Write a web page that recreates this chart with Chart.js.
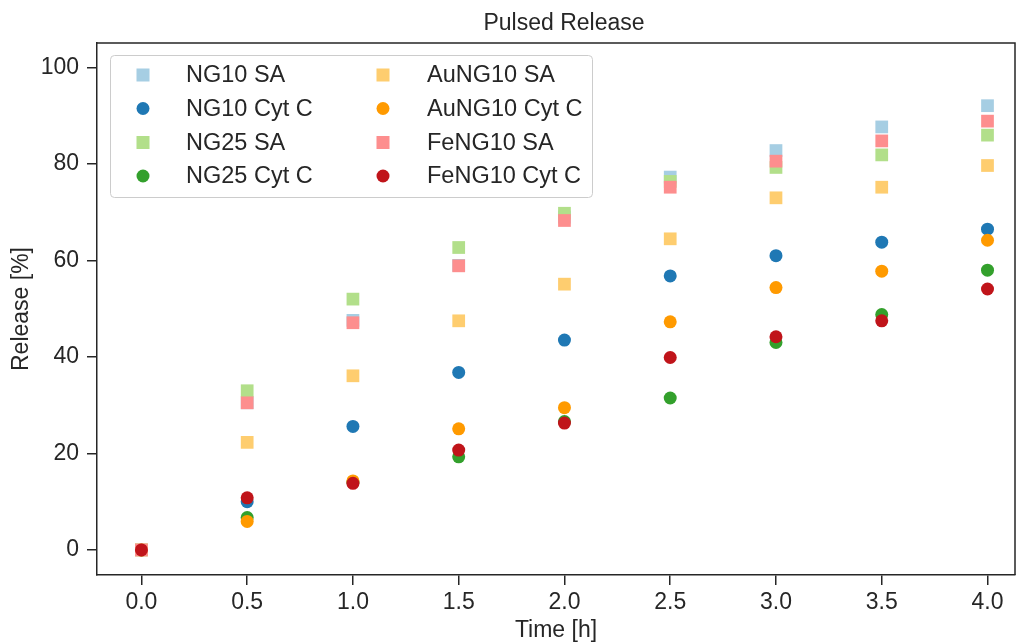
<!DOCTYPE html>
<html>
<head>
<meta charset="utf-8">
<script src="https://cdn.jsdelivr.net/npm/chart.js@4"></script>
<style>
    html, body { margin: 0; padding: 0; background: #fff; overflow: hidden; }
    canvas { display: block; }
</style>
</head>
<body>
<canvas id="releaseChart" width="1017" height="642"></canvas>
<script>
// ===== Data =====
const times = [0, 0.5, 1.0, 1.5, 2.0, 2.5, 3.0, 3.5, 4.0];
const ng10SA = [0, 30.5, 47.6, 59.0, 69.0, 77.3, 82.8, 87.7, 92.1];
const ng10Cyt = [0, 10.0, 25.6, 36.8, 43.5, 56.8, 61.0, 63.8, 66.5];
const ng25SA = [0, 33.0, 52.0, 62.7, 69.8, 76.4, 79.3, 81.9, 86.0];
const ng25Cyt = [0, 6.7, 14.0, 19.3, 26.6, 31.5, 43.0, 48.8, 58.0];
const auSA = [0, 22.3, 36.1, 47.5, 55.1, 64.5, 73.0, 75.2, 79.7];
const auCyt = [0, 5.9, 14.3, 25.1, 29.5, 47.3, 54.4, 57.8, 64.2];
const feSA = [0, 30.5, 47.1, 58.9, 68.3, 75.2, 80.6, 84.8, 88.9];
const feCyt = [0, 10.8, 13.8, 20.7, 26.3, 39.9, 44.2, 47.5, 54.1];

const xTicks = [0, 0.5, 1.0, 1.5, 2.0, 2.5, 3.0, 3.5, 4.0];
const yTicks = [0, 20, 40, 60, 80, 100];

const FONT = "'Liberation Sans', Arial, sans-serif";
const INK = "#262626";

function series(label, values, color, shape, idx) {
    return {
        label: label,
        data: times.map((t, i) => ({ x: t, y: values[i] })),
        backgroundColor: color,
        borderColor: color,
        borderWidth: 0,
        pointStyle: shape,
        pointRadius: shape === "rect" ? 9 : 6.5,
        pointHoverRadius: shape === "rect" ? 9 : 6.5,
        order: 10 - idx  // later series end up on top, like the original
    };
}

const datasets = [
    series("NG10 SA", ng10SA, "#a6cee3", "rect", 0),
    series("NG10 Cyt C", ng10Cyt, "#1f78b4", "circle", 1),
    series("NG25 SA", ng25SA, "#b2df8a", "rect", 2),
    series("NG25 Cyt C", ng25Cyt, "#33a02c", "circle", 3),
    series("AuNG10 SA", auSA, "#fecd6f", "rect", 4),
    series("AuNG10 Cyt C", auCyt, "#ff9a00", "circle", 5),
    series("FeNG10 SA", feSA, "#fd8e8e", "rect", 6),
    series("FeNG10 Cyt C", feCyt, "#c0141a", "circle", 7)
];

// ===== Frame, title and legend =====
const decor = {
    id: "decor",
    afterDatasetsDraw(chart) {
        const ctx = chart.ctx;
        const a = chart.chartArea;
        ctx.save();

        // top + right spines
        ctx.strokeStyle = INK;
        ctx.lineWidth = 1.5;
        ctx.beginPath();
        ctx.moveTo(a.left, a.top);
        ctx.lineTo(a.right, a.top);
        ctx.lineTo(a.right, a.bottom);
        ctx.stroke();

        // title
        ctx.fillStyle = INK;
        ctx.font = "23px " + FONT;
        ctx.textAlign = "center";
        ctx.textBaseline = "middle";
        ctx.fillText("Pulsed Release", (a.left + a.right) / 2 + 8, 24);

        // legend box
        ctx.fillStyle = "rgba(255,255,255,0.8)";
        ctx.strokeStyle = "#cccccc";
        ctx.lineWidth = 1;
        ctx.beginPath();
        ctx.roundRect(110.5, 55.5, 482, 142, 4);
        ctx.fill();
        ctx.stroke();

        const rows = [75, 108.5, 142.5, 176];
        const markX = [143, 383];
        const textX = [186, 427];
        ctx.font = "23.5px " + FONT;
        ctx.textAlign = "left";
        chart.data.datasets.forEach((ds, i) => {
            const col = Math.floor(i / 4);
            const y = rows[i % 4];
            ctx.fillStyle = ds.backgroundColor;
            if (ds.pointStyle === "rect") {
                ctx.fillRect(markX[col] - 6.5, y - 6.5, 13, 13);
            } else {
                ctx.beginPath();
                ctx.arc(markX[col], y, 6.5, 0, Math.PI * 2);
                ctx.fill();
            }
            ctx.fillStyle = INK;
            ctx.fillText(ds.label, textX[col], y + 1);
        });

        ctx.restore();
    }
};

const ctx = document.getElementById("releaseChart").getContext("2d");

new Chart(ctx, {
    type: "scatter",
    data: { datasets: datasets },
    options: {
        responsive: false,
        animation: false,
        events: [],
        layout: {
            autoPadding: false,
            padding: { top: 43, right: 2, left: 0, bottom: 0 }
        },
        plugins: {
            legend: { display: false },
            title: { display: false },
            tooltip: { enabled: false }
        },
        scales: {
            x: {
                type: "linear",
                min: -0.21,
                max: 4.13,
                afterBuildTicks: s => { s.ticks = xTicks.map(v => ({ value: v })); },
                afterFit: s => {
                    s.height = 67;
                    s.paddingLeft = 0;
                    s.paddingRight = 0;
                },
                ticks: {
                    color: INK,
                    font: { family: FONT, size: 23 },
                    padding: 4,
                    maxRotation: 0,
                    callback: v => Number(v).toFixed(1)
                },
                grid: {
                    drawOnChartArea: false,
                    color: INK,
                    lineWidth: 1.5,
                    tickLength: 10
                },
                border: { color: INK, width: 1.5 },
                title: {
                    display: true,
                    text: "Time [h]",
                    color: INK,
                    font: { family: FONT, size: 23 },
                    padding: { top: 0, bottom: -2 }
                }
            },
            y: {
                type: "linear",
                min: -5.2,
                max: 105.1,
                afterBuildTicks: s => { s.ticks = yTicks.map(v => ({ value: v })); },
                afterFit: s => {
                    s.width = 97;
                    s.paddingTop = 0;
                    s.paddingBottom = 0;
                },
                ticks: {
                    color: INK,
                    font: { family: FONT, size: 23 },
                    padding: 8
                },
                grid: {
                    drawOnChartArea: false,
                    color: INK,
                    lineWidth: 1.5,
                    tickLength: 10
                },
                border: { color: INK, width: 1.5 },
                title: {
                    display: true,
                    text: "Release [%]",
                    color: INK,
                    font: { family: FONT, size: 23 },
                    padding: { top: 8, bottom: 0 }
                }
            }
        }
    },
    plugins: [decor]
});
</script>
</body>
</html>
